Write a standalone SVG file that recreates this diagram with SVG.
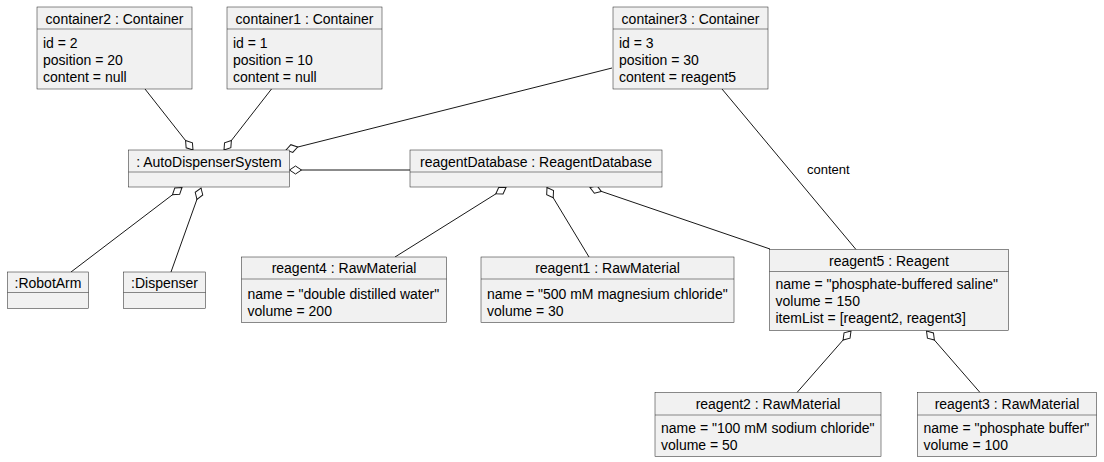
<svg xmlns="http://www.w3.org/2000/svg" width="1104" height="462" viewBox="0 0 1104 462">
<style>
.box{fill:#F1F1F1;stroke:#181818;stroke-width:0.5}
.sep{stroke:#181818;stroke-width:0.5}
text{font-family:"Liberation Sans",Arial,sans-serif;font-size:14px;fill:#000}
.t{text-anchor:middle}
.lbl{font-size:13px}
.e{fill:none;stroke:#181818;stroke-width:1;marker-start:url(#dia)}
.p{fill:none;stroke:#181818;stroke-width:1}
</style>
<defs>
<marker id="dia" markerUnits="userSpaceOnUse" markerWidth="14" markerHeight="10" refX="0" refY="5" viewBox="0 0 14 10" orient="auto" overflow="visible">
<path d="M0,5 L6,1 L12,5 L6,9 Z" fill="#FFFFFF" stroke="#181818" stroke-width="1"/>
</marker>
</defs>
<rect width="1104" height="462" fill="#FFFFFF"/>
<g id="connectors">
<path class="e" d="M193,150 L145,89"/>
<path class="e" d="M224,150 L271.5,89"/>
<path class="e" d="M286,150 L612,68"/>
<path class="e" d="M289.5,170 L410,170"/>
<path class="e" d="M182,187.5 L71,272"/>
<path class="e" d="M201,188 L171,272"/>
<path class="e" d="M506,187.5 L395,257"/>
<path class="e" d="M547,187.5 L589,257"/>
<path class="e" d="M590,187.5 L770,249"/>
<path class="p" d="M722,89 L856,249.5"/>
<text class="lbl" x="807" y="174">content</text>
<path class="e" d="M851,331 L797,392.5"/>
<path class="e" d="M926.5,331 L980,392.5"/>
</g>
<g id="container2">
<rect class="box" x="37" y="7" width="155" height="82"/>
<line class="sep" x1="37" y1="29" x2="192" y2="29"/>
<text class="t" x="114.5" y="24">container2 : Container</text>
<text x="43" y="47.5">id = 2</text>
<text x="43" y="64.5">position = 20</text>
<text x="43" y="81.5">content = null</text>
</g>
<g id="container1">
<rect class="box" x="227" y="7" width="155" height="82"/>
<line class="sep" x1="227" y1="29" x2="382" y2="29"/>
<text class="t" x="304.5" y="24">container1 : Container</text>
<text x="233" y="47.5">id = 1</text>
<text x="233" y="64.5">position = 10</text>
<text x="233" y="81.5">content = null</text>
</g>
<g id="container3">
<rect class="box" x="613" y="7" width="155" height="82"/>
<line class="sep" x1="613" y1="29" x2="768" y2="29"/>
<text class="t" x="690.5" y="24">container3 : Container</text>
<text x="619" y="47.5">id = 3</text>
<text x="619" y="64.5">position = 30</text>
<text x="619" y="81.5">content = reagent5</text>
</g>
<g id="autoDispenserSystem">
<rect class="box" x="128.5" y="150" width="161" height="37"/>
<line class="sep" x1="128.5" y1="172" x2="289.5" y2="172"/>
<text class="t" x="209" y="166.5">: AutoDispenserSystem</text>
</g>
<g id="robotArm">
<rect class="box" x="7.5" y="272" width="81" height="36.5"/>
<line class="sep" x1="7.5" y1="292.5" x2="88.5" y2="292.5"/>
<text class="t" x="48" y="288">:RobotArm</text>
</g>
<g id="dispenser">
<rect class="box" x="123.5" y="272" width="82" height="36.5"/>
<line class="sep" x1="123.5" y1="292.5" x2="205.5" y2="292.5"/>
<text class="t" x="164.5" y="288">:Dispenser</text>
</g>
<g id="reagentDatabase">
<rect class="box" x="410" y="150" width="252" height="37"/>
<line class="sep" x1="410" y1="172" x2="662" y2="172"/>
<text class="t" x="536" y="166.5">reagentDatabase : ReagentDatabase</text>
</g>
<g id="reagent4">
<rect class="box" x="241.5" y="257" width="205" height="65.5"/>
<line class="sep" x1="241.5" y1="279" x2="446.5" y2="279"/>
<text class="t" x="344" y="273">reagent4 : RawMaterial</text>
<text x="247.5" y="299">name = "double distilled water"</text>
<text x="247.5" y="316">volume = 200</text>
</g>
<g id="reagent1">
<rect class="box" x="481" y="257" width="253" height="65.5"/>
<line class="sep" x1="481" y1="279" x2="734" y2="279"/>
<text class="t" x="607.5" y="273">reagent1 : RawMaterial</text>
<text x="487" y="299">name = "500 mM magnesium chloride"</text>
<text x="487" y="316">volume = 30</text>
</g>
<g id="reagent5">
<rect class="box" x="769.5" y="249.5" width="239" height="81"/>
<line class="sep" x1="769.5" y1="271.5" x2="1008.5" y2="271.5"/>
<text class="t" x="889" y="266">reagent5 : Reagent</text>
<text x="775.5" y="289">name = "phosphate-buffered saline"</text>
<text x="775.5" y="306">volume = 150</text>
<text x="775.5" y="323">itemList = [reagent2, reagent3]</text>
</g>
<g id="reagent2">
<rect class="box" x="655" y="392.5" width="226" height="64"/>
<line class="sep" x1="655" y1="415" x2="881" y2="415"/>
<text class="t" x="768" y="409">reagent2 : RawMaterial</text>
<text x="661" y="433">name = "100 mM sodium chloride"</text>
<text x="661" y="450">volume = 50</text>
</g>
<g id="reagent3">
<rect class="box" x="917.5" y="392.5" width="179" height="64"/>
<line class="sep" x1="917.5" y1="415" x2="1096.5" y2="415"/>
<text class="t" x="1007" y="409">reagent3 : RawMaterial</text>
<text x="923.5" y="433">name = "phosphate buffer"</text>
<text x="923.5" y="450">volume = 100</text>
</g>
</svg>
